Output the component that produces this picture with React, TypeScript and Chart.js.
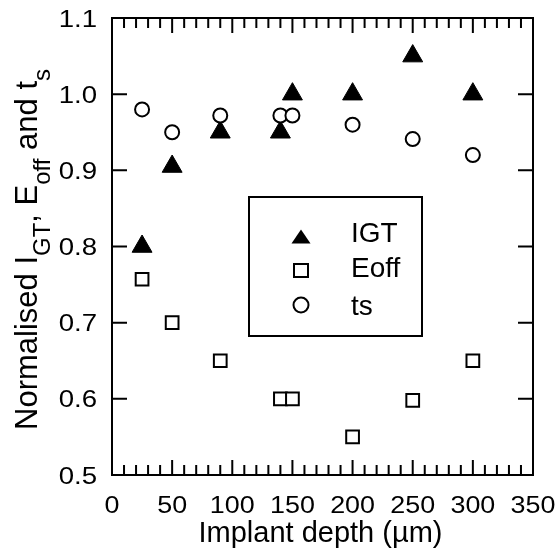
import React, { useEffect, useRef } from "react";
import { Chart, registerables } from "chart.js";

Chart.register(...registerables);

// ---- data ----
const depths = [25, 50, 90, 140, 150, 200, 250, 300];
const igtValues = [0.8, 0.905, 0.95, 0.95, 1.0, 1.0, 1.05, 1.0];
const eoffValues = [0.757, 0.7, 0.65, 0.6, 0.6, 0.55, 0.598, 0.65];
const tsValues = [0.98, 0.95, 0.972, 0.972, 0.972, 0.96, 0.941, 0.92];
const seriesNames = ["IGT", "Eoff", "ts"];
const xTickValues = [0, 50, 100, 150, 200, 250, 300, 350];
const yTickValues = [0.5, 0.6, 0.7, 0.8, 0.9, 1.0, 1.1];
const xTitle = "Implant depth (µm)";

const FONT = '"Liberation Sans", Arial, Helvetica, sans-serif';

function toPoints(vals: number[]) {
  return depths.map((d, i) => ({ x: d, y: vals[i] }));
}

function fillStretched(
  ctx: CanvasRenderingContext2D,
  text: string,
  x: number,
  y: number,
  align: CanvasTextAlign,
  sx: number
) {
  ctx.save();
  ctx.translate(x, y);
  ctx.scale(sx, 1);
  ctx.textAlign = align;
  ctx.fillText(text, 0, 0);
  ctx.restore();
}

const framePlugin = {
  id: "framePlugin",
  afterDraw(chart: any) {
    const ctx = chart.ctx as CanvasRenderingContext2D;
    const xs = chart.scales.x;
    const ys = chart.scales.y;
    const { left, right, top, bottom } = chart.chartArea;
    ctx.save();
    ctx.strokeStyle = "#000";
    ctx.fillStyle = "#000";
    ctx.lineWidth = 2;
    ctx.strokeRect(left, top, right - left, bottom - top);

    // x ticks (major + minor every 10), inward at bottom and top
    for (let v = 0; v <= 350; v += 10) {
      const px = xs.getPixelForValue(v);
      const major = v % 50 === 0;
      const len = major ? 15 : 10;
      ctx.beginPath();
      ctx.moveTo(px, bottom);
      ctx.lineTo(px, bottom - len);
      ctx.moveTo(px, top);
      ctx.lineTo(px, top + len);
      ctx.stroke();
    }
    // y ticks, inward left and right
    for (const v of yTickValues) {
      const py = ys.getPixelForValue(v);
      ctx.beginPath();
      ctx.moveTo(left, py);
      ctx.lineTo(left + 15, py);
      ctx.moveTo(right, py);
      ctx.lineTo(right - 15, py);
      ctx.stroke();
    }

    // tick labels
    ctx.font = `24px ${FONT}`;
    ctx.textBaseline = "alphabetic";
    for (const v of xTickValues) {
      fillStretched(ctx, String(v), xs.getPixelForValue(v), bottom + 37.5, "center", 1.12);
    }
    for (const v of yTickValues) {
      fillStretched(ctx, v.toFixed(1), left - 15, ys.getPixelForValue(v) + 8.5, "right", 1.15);
    }

    // x title
    ctx.font = `29px ${FONT}`;
    fillStretched(ctx, xTitle, (left + right) / 2 - 2, bottom + 67, "center", 1.0);

    // y title with subscripts
    const pieces: [string, boolean][] = [
      ["Normalised I", false],
      ["GT", true],
      [", E", false],
      ["off", true],
      [" and t", false],
      ["s", true],
    ];
    const mainFont = `31px ${FONT}`;
    const subFont = `24px ${FONT}`;
    let total = 0;
    for (const [t, sub] of pieces) {
      ctx.font = sub ? subFont : mainFont;
      total += ctx.measureText(t).width;
    }
    const startY = 430;
    ctx.save();
    ctx.translate(37, startY);
    ctx.rotate(-Math.PI / 2);
    ctx.textAlign = "left";
    let xPos = 0;
    for (const [t, sub] of pieces) {
      ctx.font = sub ? subFont : mainFont;
      ctx.fillText(t, xPos, sub ? 13 : 0);
      xPos += ctx.measureText(t).width;
    }
    ctx.restore();

    // legend box
    ctx.lineWidth = 2;
    ctx.strokeRect(249, 197, 173, 139);
    const rows = [242, 277, 315];
    const mx = 301;
    // triangle
    ctx.beginPath();
    ctx.moveTo(mx, 229.5);
    ctx.lineTo(mx - 9.5, 243.5);
    ctx.lineTo(mx + 9.5, 243.5);
    ctx.closePath();
    ctx.fill();
    // square
    ctx.lineWidth = 2;
    ctx.strokeRect(mx - 7, 264, 14, 13);
    // circle
    ctx.beginPath();
    ctx.arc(mx, 305, 7.5, 0, Math.PI * 2);
    ctx.stroke();
    ctx.font = `28px ${FONT}`;
    seriesNames.forEach((n, i) => fillStretched(ctx, n, 351, rows[i], "left", 1.0));
    ctx.restore();
  },
};

export default function App() {
  const ref = useRef<HTMLCanvasElement | null>(null);
  useEffect(() => {
    if (!ref.current) return;
    const chart = new Chart(ref.current, {
      type: "scatter",
      data: {
        datasets: [
          {
            label: seriesNames[0],
            data: toPoints(igtValues),
            pointStyle: "triangle",
            pointRadius: 11.5,
            backgroundColor: "#000",
            borderColor: "#000",
            borderWidth: 1,
            order: 2,
          },
          {
            label: seriesNames[1],
            data: toPoints(eoffValues),
            pointStyle: "rect",
            pointRadius: 9,
            backgroundColor: "#fff",
            borderColor: "#000",
            borderWidth: 2,
            order: 1,
          },
          {
            label: seriesNames[2],
            data: toPoints(tsValues),
            pointStyle: "circle",
            pointRadius: 7,
            backgroundColor: "#fff",
            borderColor: "#000",
            borderWidth: 2,
            order: 0,
          },
        ],
      },
      options: {
        responsive: false,
        animation: false,
        devicePixelRatio: 1,
        layout: { padding: { left: 0, top: 18, right: 23, bottom: 0 } },
        plugins: { legend: { display: false }, tooltip: { enabled: false } },
        scales: {
          x: {
            type: "linear",
            min: 0,
            max: 350,
            ticks: { display: false },
            grid: { display: false },
            border: { display: false },
            afterFit: (s: any) => {
              s.height = 76;
            },
          },
          y: {
            type: "linear",
            min: 0.5,
            max: 1.1,
            ticks: { display: false },
            grid: { display: false },
            border: { display: false },
            afterFit: (s: any) => {
              s.width = 112;
            },
          },
        },
      } as any,
      plugins: [framePlugin],
    });
    return () => chart.destroy();
  }, []);
  return (
    <div style={{ position: "absolute", left: 0, top: 0, width: 556, height: 551, background: "#fff" }}>
      <canvas ref={ref} width={556} height={551} />
    </div>
  );
}
